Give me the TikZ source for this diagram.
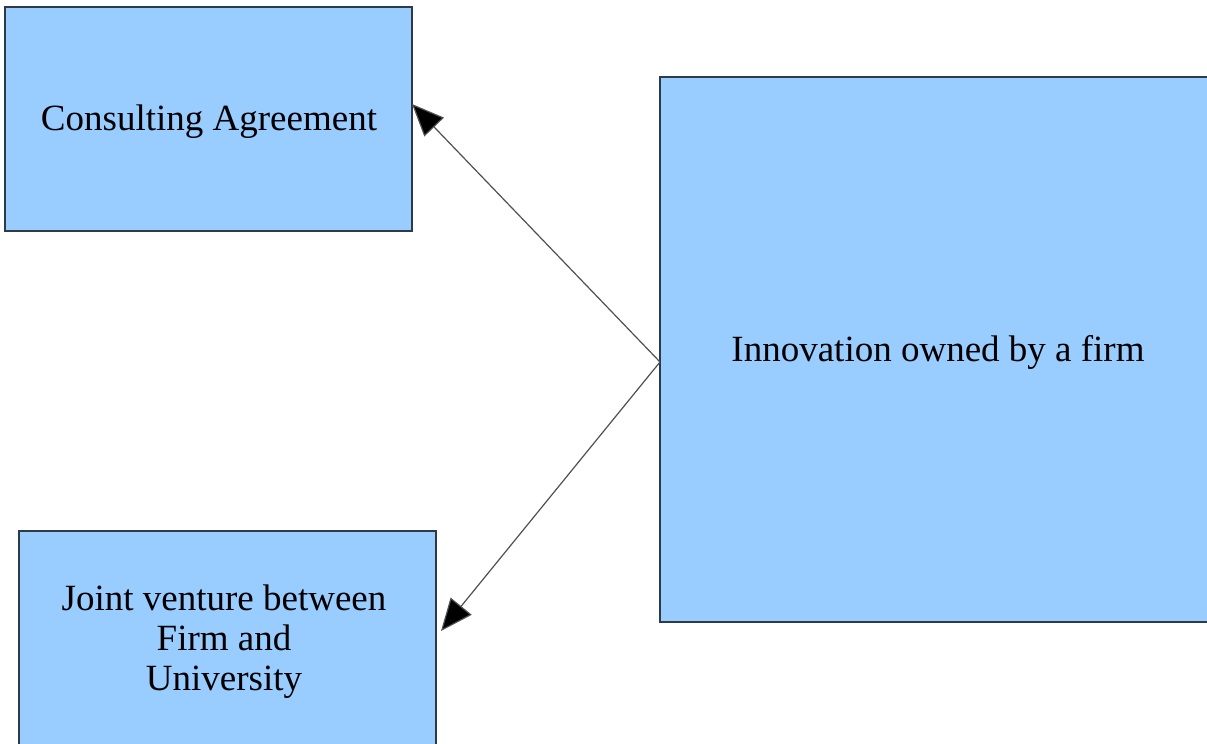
\documentclass[tikz,border=0pt]{standalone}
\usepackage{fontspec}
\setmainfont{Liberation Serif}
\usetikzlibrary{arrows.meta}
\definecolor{boxblue}{HTML}{99CCFF}
\definecolor{edge}{HTML}{2E3A44}
\definecolor{linegray}{HTML}{505050}
\begin{document}
\begin{tikzpicture}[x=1pt,y=1pt,
  box/.style={draw=edge,line width=1.6pt,fill=boxblue},
  lbl/.style={font=\fontsize{37}{40}\selectfont,align=center,inner sep=0pt},
  conn/.style={draw=linegray,line width=1.2pt,-{Triangle[length=32pt,width=27pt,fill=black]}}]
\useasboundingbox (0,0) rectangle (1207,744);
\clip (0,0) rectangle (1207,744);
\fill[white] (0,0) rectangle (1207,744);
% boxes
\draw[box] (5,737) rectangle (412,513);
\draw[box] (660,667) rectangle (1215,122);
\draw[box] (19,213) rectangle (436,-10);
\node[lbl] (ca) at (209,622) {Consulting Agreement};
\node[lbl] (inno) at (938,392) {Innovation owned by a firm};
\node[lbl] (jv) at (224,102) {Joint venture between\\Firm and\\University};
% connector points
\coordinate (src) at (660,382);
\coordinate (t1) at (412,640);
\coordinate (t2) at (441,113);
\draw[conn] (src) -- (t1);
\draw[conn] (src) -- (t2);
\end{tikzpicture}
\end{document}
